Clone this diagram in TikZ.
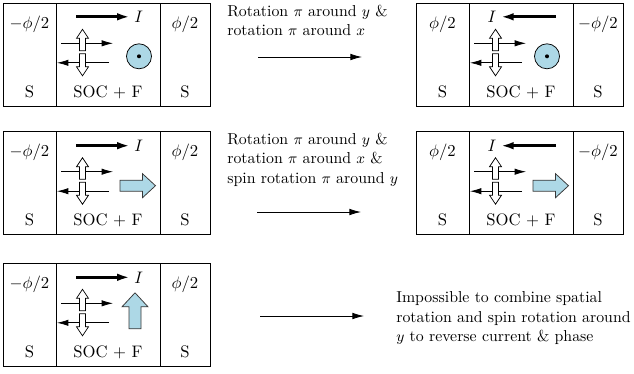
\documentclass[tikz,border=0pt]{standalone}
\usepackage{amsmath,amssymb}
\usepackage{xcolor}
\usepackage{tikz}
\usetikzlibrary{arrows.meta,calc,positioning}
\definecolor{jnSky}{RGB}{173,216,230}
\definecolor{jnInk}{RGB}{0,0,0}
\definecolor{jnEdge}{RGB}{55,55,55}
\tikzset{
  jnframe/.style={draw=jnInk,line width=0.5pt},
  jnlabel/.style={font=\fontsize{10}{12}\selectfont,text=jnInk,inner sep=0pt},
  jnnote/.style={font=\fontsize{9.5}{11.7}\selectfont,text=jnInk,inner sep=0pt,align=left,anchor=north west},
  jncurrent/.style={-{Latex[length=7.8pt,width=4.6pt]},draw=jnInk,line width=1.6pt,shorten >=2.4pt},
  jnfield/.style={-{Latex[length=6.8pt,width=3.8pt]},draw=jnInk,line width=0.45pt},
  jnopen/.style={draw=jnInk,fill=white,line width=0.45pt},
  jnspin/.style={draw=jnEdge,fill=jnSky,line width=0.45pt},
  jnflow/.style={-{Latex[length=7pt,width=4pt]},draw=jnInk,line width=0.5pt},
}
% block arrow: style, tail x, tail y, angle, length, shaft half-width, head half-width, head length
\newcommand{\BlockArrow}[8]{%
  \begin{scope}[shift={(#2,#3)},rotate=#4]
    \draw[#1] (0,-#6) -- ({#5-#8},-#6) -- ({#5-#8},-#7) -- (#5,0)
      -- ({#5-#8},#7) -- ({#5-#8},#6) -- (0,#6) -- cycle;
  \end{scope}%
}
% S | SOC+F | S junction with the two spin-orbit fields
\newcommand{\JunctionBox}[5]{%
  \begin{scope}[shift={(#2,#3)}]
    \draw[jnframe] (0,0) rectangle (207,103);
    \draw[jnframe] (53,0) -- (53,103) (157,0) -- (157,103);
    \node[jnlabel,anchor=base] (#1-phl) at (26.5,25) {$#4$};
    \node[jnlabel,anchor=base] (#1-phr) at (182,25) {$#5$};
    \node[jnlabel,anchor=base] (#1-sl) at (26.5,94) {S};
    \node[jnlabel,anchor=base] (#1-soc) at (105,94) {SOC + F};
    \node[jnlabel,anchor=base] (#1-sr) at (182,94) {S};
    \draw[jnfield] (58,40) -- (110,40);
    \draw[jnfield] (106,59.5) -- (54,59.5);
    \BlockArrow{jnopen}{79.5}{47.5}{90}{21.5}{3}{6}{9}
    \BlockArrow{jnopen}{79.5}{50.5}{-90}{22}{3}{6}{9}
  \end{scope}%
}

\begin{document}
\begin{tikzpicture}[x=0.6pt,y=-0.6pt]
\useasboundingbox (0,0) rectangle (634,373);

% Row 1: magnetization out of plane.
\JunctionBox{a}{3}{3.3}{-\phi/2}{\phi/2}
\begin{scope}[shift={(3,3.3)}]
  \node[jnlabel,anchor=west] (a-I) at (131,13.5) {$I$};
  \coordinate (a-Isrc) at (73,13.5);
  \draw[jncurrent] (a-Isrc) -- (a-I);
  \draw[jnspin,draw=jnInk] (136,53) circle[radius=7.5pt];
  \fill[jnInk] (136,53) circle[radius=1.2pt];
\end{scope}
\node[jnnote] (a-note) at (227,4.5) {Rotation $\pi$ around $y$ \&\\rotation $\pi$ around $x$};
\coordinate (a-from) at (258,57);
\coordinate (a-to) at (362,57);
\draw[jnflow] (a-from) -- (a-to);
\JunctionBox{b}{416}{3.3}{\phi/2}{-\phi/2}
\begin{scope}[shift={(416,3.3)}]
  \node[jnlabel,anchor=east] (b-I) at (80.7,13.5) {$I$};
  \coordinate (b-Isrc) at (140,13.5);
  \draw[jncurrent] (b-Isrc) -- (b-I);
  \draw[jnspin,draw=jnInk] (131,53) circle[radius=7.5pt];
  \fill[jnInk] (131,53) circle[radius=1.2pt];
\end{scope}

% Row 2: magnetization along x.
\JunctionBox{c}{3}{131.7}{-\phi/2}{\phi/2}
\begin{scope}[shift={(3,131.7)}]
  \node[jnlabel,anchor=west] (c-I) at (131,14) {$I$};
  \coordinate (c-Isrc) at (73,14);
  \draw[jncurrent] (c-Isrc) -- (c-I);
  \BlockArrow{jnspin}{117}{54}{0}{35.5}{5.5}{12}{13}
\end{scope}
\node[jnnote] (c-note) at (227,132.8) {Rotation $\pi$ around $y$ \&\\rotation $\pi$ around $x$ \&\\spin rotation $\pi$ around $y$};
\coordinate (c-from) at (257,212);
\coordinate (c-to) at (361,212);
\draw[jnflow] (c-from) -- (c-to);
\JunctionBox{d}{416}{131.7}{\phi/2}{-\phi/2}
\begin{scope}[shift={(416,131.7)}]
  \node[jnlabel,anchor=east] (d-I) at (80.7,14) {$I$};
  \coordinate (d-Isrc) at (140,14);
  \draw[jncurrent] (d-Isrc) -- (d-I);
  \BlockArrow{jnspin}{117}{54}{0}{35.5}{5.5}{12}{13}
\end{scope}

% Row 3: magnetization along y.
\JunctionBox{e}{3}{263.3}{-\phi/2}{\phi/2}
\begin{scope}[shift={(3,263.3)}]
  \node[jnlabel,anchor=west] (e-I) at (131,14) {$I$};
  \coordinate (e-Isrc) at (73,14);
  \draw[jncurrent] (e-Isrc) -- (e-I);
  \BlockArrow{jnspin}{132}{65.5}{90}{36}{6}{13}{14}
\end{scope}
\coordinate (e-from) at (260,316);
\coordinate (e-to) at (364,316);
\draw[jnflow] (e-from) -- (e-to);
\node[jnnote] (e-note) at (396,291.5) {Impossible to combine spatial\\rotation and spin rotation around\\$y$ to reverse current \& phase};
\end{tikzpicture}
\end{document}
